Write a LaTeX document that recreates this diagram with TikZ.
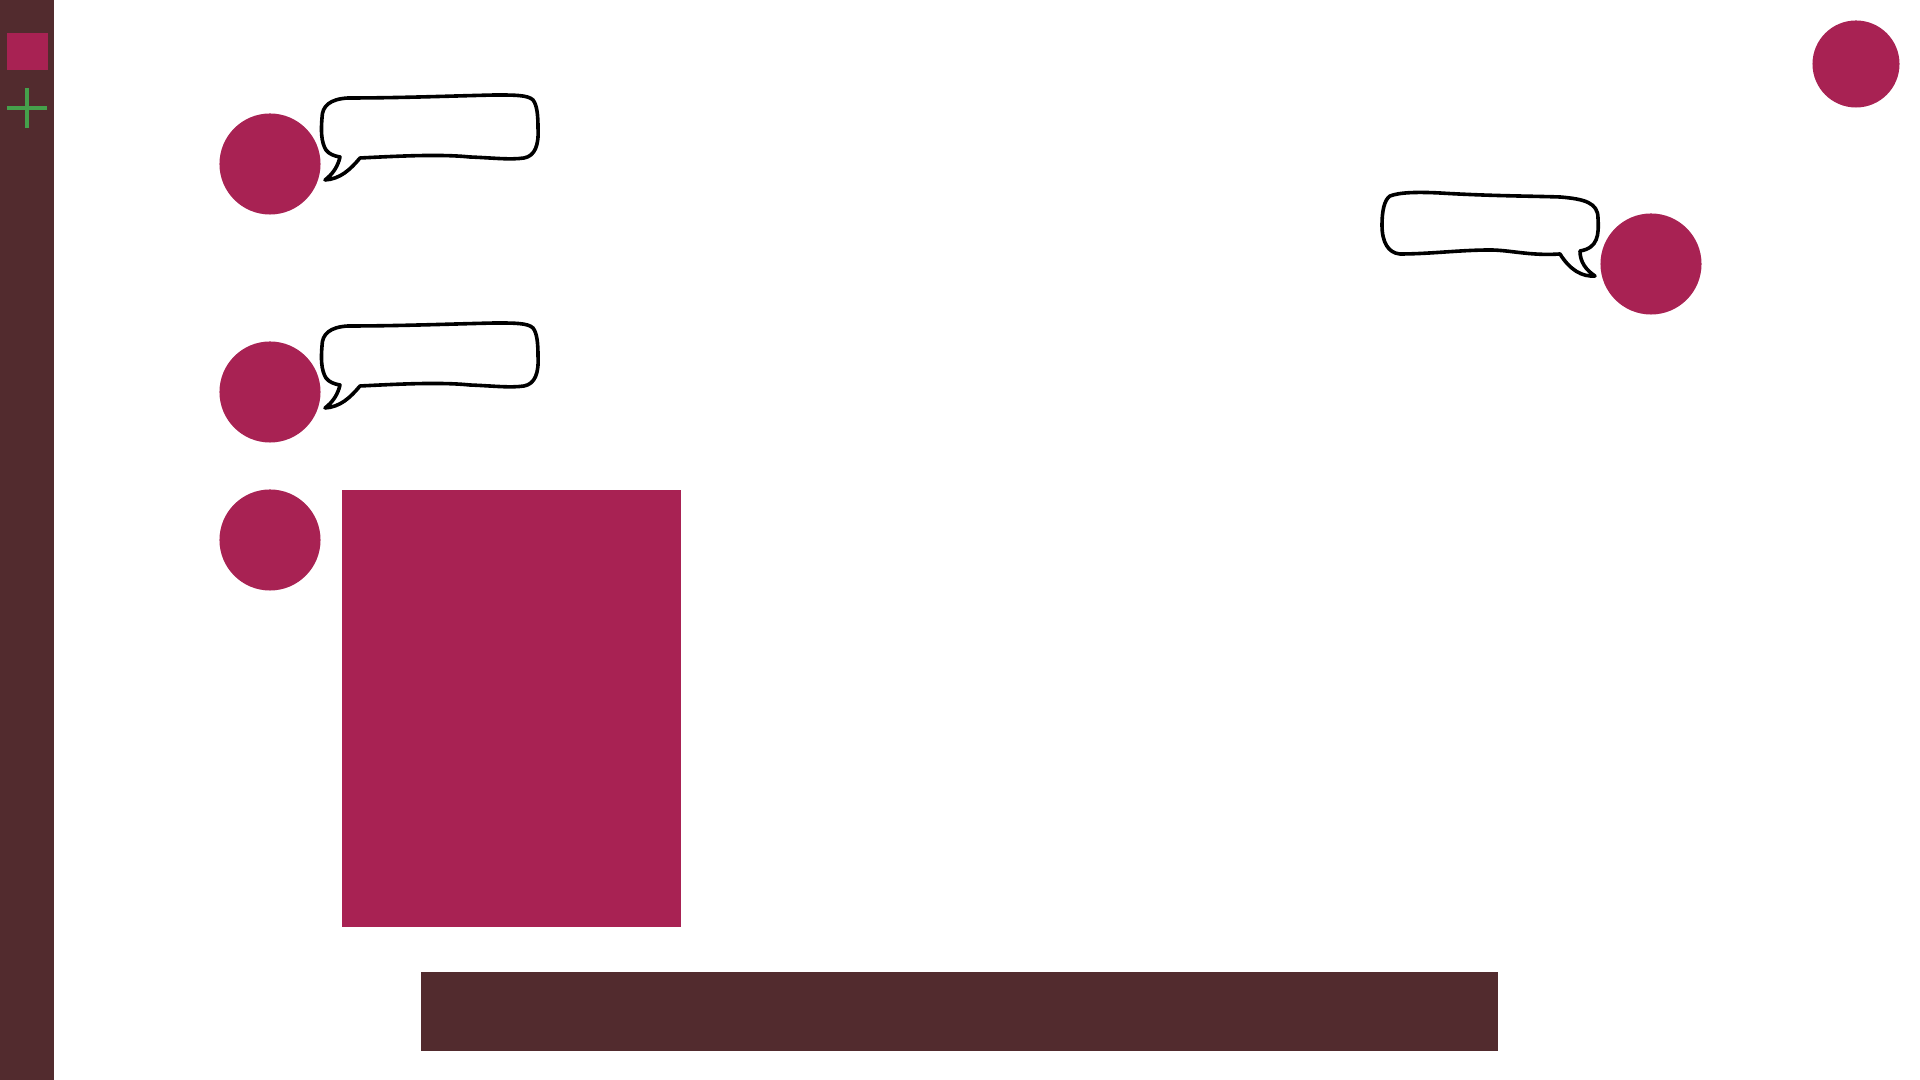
\documentclass[tikz,border=0pt]{standalone}
\usepackage{tikz}
\usetikzlibrary{calc}
\usepackage{xcolor}
\definecolor{berry}{HTML}{A82253}
\definecolor{cocoa}{HTML}{522B2E}
\definecolor{leaf}{HTML}{45A04B}

\begin{document}
\begin{tikzpicture}[x=0.01cm,y=-0.01cm]
    \tikzstyle{dot}=[fill=berry,circle,minimum size=1.01cm,inner sep=0]
    \tikzstyle{bubble}=[draw=black,line width=0.036cm,line join=round,fill=white]
    \useasboundingbox (0,0) rectangle (1920,1080);
    % side bar
    \fill[cocoa] (0,0) rectangle (54,1080);
    \fill[berry] (7,33) rectangle (48,70);
    \draw[leaf,line width=0.045cm] (27,88) -- (27,128);
    \draw[leaf,line width=0.045cm] (7,108) -- (47,108);
    % speakers
    \node[dot] (sa) at (270,164) {};
    \node[dot] (sb) at (270,392) {};
    \node[dot] (sc) at (270,540) {};
    \node[dot] (sd) at (1651,264) {};
    \node[dot,minimum size=0.87cm] (se) at (1856,64) {};
    % left bubbles
    \foreach \dy in {0,228} {
    \begin{scope}[yshift=-\dy*0.01cm]
    \draw[bubble] (340,157) .. controls (338,166) and (333,174) .. (325,180)
        .. controls (340,179) and (350,170) .. (360,158)
        .. controls (400,156) and (440,154) .. (470,157)
        .. controls (495,158) and (510,160) .. (524,158)
        .. controls (535,156) and (539,145) .. (538,128)
        .. controls (538,115) and (537,105) .. (533,100)
        .. controls (528,95) and (515,95) .. (495,95)
        .. controls (450,96) and (400,98) .. (348,98)
        .. controls (330,99) and (322,106) .. (322,118)
        .. controls (321,130) and (321,142) .. (326,150)
        .. controls (329,154) and (334,156) .. (340,157) -- cycle;
    \end{scope}
    }
    % right bubble
    \draw[bubble] (1580,251) .. controls (1580,262) and (1586,270) .. (1595,276)
        .. controls (1582,277) and (1570,270) .. (1560,254)
        .. controls (1530,256) and (1510,250) .. (1490,250)
        .. controls (1460,250) and (1430,254) .. (1400,254)
        .. controls (1388,253) and (1382,242) .. (1382,225)
        .. controls (1382,212) and (1384,200) .. (1390,196)
        .. controls (1400,192) and (1420,192) .. (1440,193)
        .. controls (1490,196) and (1530,196) .. (1560,197)
        .. controls (1585,199) and (1598,203) .. (1598,218)
        .. controls (1599,235) and (1598,248) .. (1580,251) -- cycle;
    % blocks
    \fill[berry] (342,490) rectangle (681,927);
    \fill[cocoa] (421,972) rectangle (1498,1051);
\end{tikzpicture}
\end{document}
